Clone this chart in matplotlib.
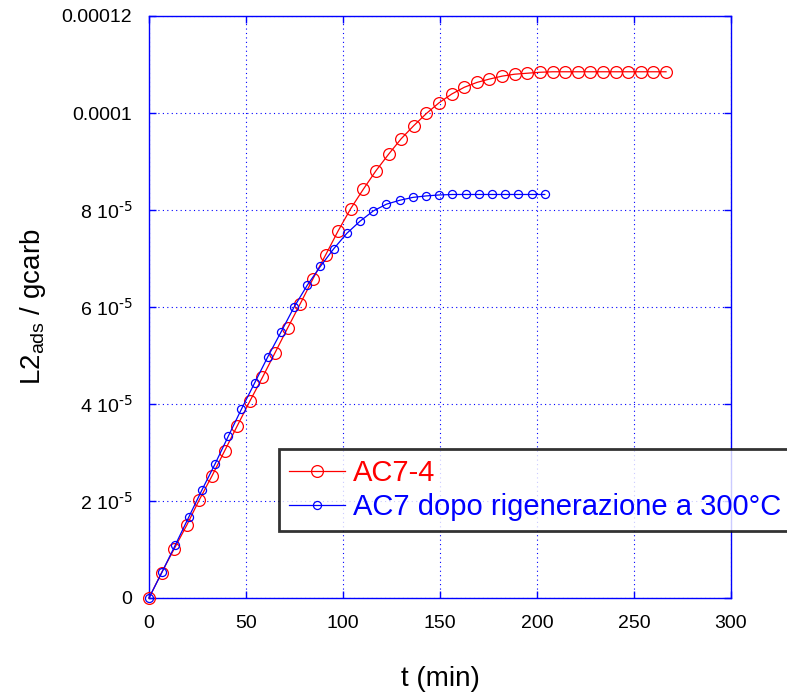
import matplotlib
matplotlib.use("Agg")
import matplotlib.pyplot as plt
from matplotlib.ticker import FixedLocator, FixedFormatter

plt.rcParams['font.family'] = ['Liberation Sans', 'DejaVu Sans']
plt.rcParams['mathtext.default'] = 'regular'

# Data
t_red = [0, 6.5, 13, 19.5, 26, 32.5, 39, 45.5, 52, 58.5, 65, 71.5, 78, 84.5, 91, 97.5,
         104, 110.5, 117, 123.5, 130, 136.5, 143, 149.5, 156, 162.5, 169, 175.5, 182,
         188.5, 195, 201.5, 208, 214.5, 221, 227.5, 234, 240.5, 247, 253.5, 260, 266.5]
y_red = [0, 0.524e-5, 1.014e-5, 1.505e-5, 2.03e-5, 2.52e-5, 3.035e-5, 3.55e-5, 4.06e-5,
         4.55e-5, 5.06e-5, 5.57e-5, 6.07e-5, 6.58e-5, 7.07e-5, 7.57e-5, 8.03e-5, 8.43e-5,
         8.81e-5, 9.15e-5, 9.47e-5, 9.74e-5, 9.99e-5, 10.21e-5, 10.39e-5, 10.53e-5,
         10.63e-5, 10.70e-5, 10.76e-5, 10.80e-5, 10.82e-5, 10.84e-5, 10.85e-5, 10.85e-5,
         10.85e-5, 10.85e-5, 10.85e-5, 10.85e-5, 10.85e-5, 10.85e-5, 10.85e-5, 10.85e-5]

t_blue = [0, 6.8, 13.6, 20.4, 27.2, 34, 40.8, 47.6, 54.4, 61.2, 68, 74.8, 81.6, 88.4,
          95.2, 102, 108.8, 115.6, 122.4, 129.2, 136, 142.8, 149.6, 156.4, 163.2, 170,
          176.8, 183.6, 190.4, 197.2, 204]
y_blue = [0, 0.54e-5, 1.096e-5, 1.66e-5, 2.22e-5, 2.76e-5, 3.33e-5, 3.89e-5, 4.43e-5,
          4.97e-5, 5.48e-5, 6.00e-5, 6.45e-5, 6.84e-5, 7.20e-5, 7.52e-5, 7.77e-5, 7.98e-5,
          8.12e-5, 8.20e-5, 8.26e-5, 8.29e-5, 8.31e-5, 8.32e-5, 8.32e-5, 8.32e-5, 8.32e-5,
          8.32e-5, 8.32e-5, 8.32e-5, 8.32e-5]

x_ticks = [0, 50, 100, 150, 200, 250, 300]
y_ticks = [0, 2e-5, 4e-5, 6e-5, 8e-5, 1e-4, 1.2e-4]
y_tick_labels = ['0', r'2 10$^{\text{-5}}$', r'4 10$^{\text{-5}}$', r'6 10$^{\text{-5}}$',
                 r'8 10$^{\text{-5}}$', '0.0001', '0.00012']

label_red = 'AC7-4'
label_blue = 'AC7 dopo rigenerazione a 300°C'

fig = plt.figure(figsize=(7.87, 6.99), dpi=100)
ax = fig.add_axes([149/787, 1 - 598/699, (731 - 149)/787, (598 - 16)/699])

ax.plot(t_red, y_red, color='red', lw=0.9, marker='o', ms=8.5, mfc='none',
        mec='red', mew=0.9, label=label_red, clip_on=False, zorder=3)
ax.plot(t_blue, y_blue, color='blue', lw=0.9, marker='o', ms=5.8, mfc='none',
        mec='blue', mew=0.9, label=label_blue, clip_on=False, zorder=4)

ax.set_xlim(0, 300)
ax.set_ylim(0, 1.2e-4)
ax.xaxis.set_major_locator(FixedLocator(x_ticks))
ax.yaxis.set_major_locator(FixedLocator(y_ticks))
ax.yaxis.set_major_formatter(FixedFormatter(y_tick_labels))

ax.grid(True, color='blue', linestyle=(0, (1, 3)), linewidth=0.8)
for s in ax.spines.values():
    s.set_color('blue')
    s.set_linewidth(1.0)
ax.tick_params(direction='in', color='blue', length=5, width=1,
               top=True, right=True, labelcolor='black', labelsize=14, pad=12)

ax.set_xlabel('t (min)', fontsize=20, labelpad=25)
ax.set_ylabel('L2$_{ads}$ / gcarb', fontsize=20, labelpad=10)

leg = ax.legend(loc='upper left', bbox_to_anchor=(279/787, 1 - 449/699),
                bbox_transform=fig.transFigure, fontsize=21, frameon=True,
                fancybox=False, handlelength=1.9, handletextpad=0.3,
                borderpad=0.35, labelspacing=0.2, borderaxespad=0)
leg.get_frame().set_edgecolor('black')
leg.get_frame().set_linewidth(2)
for txt, c in zip(leg.get_texts(), ['red', 'blue']):
    txt.set_color(c)

fig.savefig('out.png', dpi=100)
